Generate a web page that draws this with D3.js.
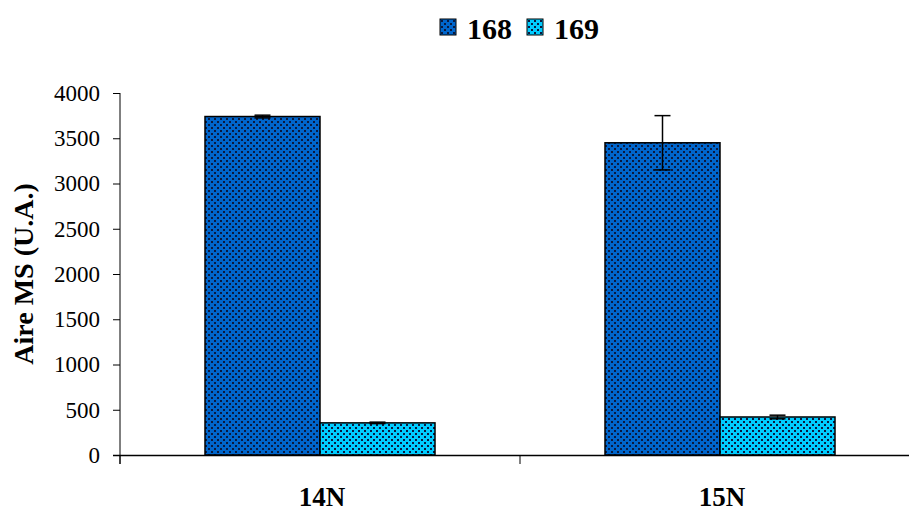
<!DOCTYPE html>
<html><head><meta charset="utf-8">
<script src="https://cdn.jsdelivr.net/npm/d3@7"></script>
<style>body{margin:0;background:#fff;} svg{display:block;}</style>
</head><body>
<svg id="c" width="909" height="513"></svg>
<script>
const categories = ["14N", "15N"];
const seriesNames = ["168", "169"];
const values168 = [3740, 3450];
const values169 = [355, 420];
const errors168 = [15, 300];
const errors169 = [8, 20];
const yTicks = [0, 500, 1000, 1500, 2000, 2500, 3000, 3500, 4000];
const colors = ["#0066CC", "#00CCFF"];

const svg = d3.select("#c");
const font = "'Liberation Serif','Times New Roman',serif";
const defs = svg.append("defs");
colors.forEach((c, i) => {
  const p = defs.append("pattern").attr("id", "pat" + i).attr("patternUnits", "userSpaceOnUse")
    .attr("width", 6).attr("height", 6);
  p.append("rect").attr("width", 6).attr("height", 6).attr("fill", c);
  p.append("rect").attr("x", 1).attr("y", 1).attr("width", 2).attr("height", 2).attr("fill", "#0a1a40");
  p.append("rect").attr("x", 4).attr("y", 4).attr("width", 2).attr("height", 2).attr("fill", "#0a1a40");
});

const x0 = d3.scaleBand().domain(categories).range([120, 920]).paddingInner(0).paddingOuter(0);
const x1 = d3.scaleBand().domain(seriesNames).range([85, 315]);
const y = d3.scaleLinear().domain([0, 4000]).range([455, 93]);

const data = categories.map((c, i) => ({
  cat: c,
  vals: [
    { s: "168", v: values168[i], e: errors168[i], k: 0 },
    { s: "169", v: values169[i], e: errors169[i], k: 1 }
  ]
}));

const g = svg.append("g");
const cg = g.selectAll("g.cat").data(data).join("g").attr("transform", d => `translate(${x0(d.cat)},0)`);
cg.selectAll("rect").data(d => d.vals).join("rect")
  .attr("x", d => x1(d.s)).attr("width", x1.bandwidth())
  .attr("y", d => y(d.v)).attr("height", d => y(0) - y(d.v))
  .attr("fill", d => `url(#pat${d.k})`).attr("stroke", "#000").attr("stroke-width", 1.5);

// error bars
const eb = cg.selectAll("g.eb").data(d => d.vals).join("g");
eb.append("line").attr("x1", d => x1(d.s) + x1.bandwidth() / 2).attr("x2", d => x1(d.s) + x1.bandwidth() / 2)
  .attr("y1", d => y(d.v + d.e)).attr("y2", d => y(d.v - d.e)).attr("stroke", "#000").attr("stroke-width", 1.5);
eb.selectAll("line.cap").data(d => [d.v + d.e, d.v - d.e].map(t => ({ t, d }))).join("line")
  .attr("x1", o => x1(o.d.s) + x1.bandwidth() / 2 - 8).attr("x2", o => x1(o.d.s) + x1.bandwidth() / 2 + 8)
  .attr("y1", o => y(o.t)).attr("y2", o => y(o.t)).attr("stroke", "#000").attr("stroke-width", 1.5);

// y axis
const ya = d3.axisLeft(y).tickValues(yTicks).tickSize(7).tickPadding(13).tickFormat(d3.format("d"));
const yg = svg.append("g").attr("transform", "translate(120,0)").call(ya);
yg.select(".domain").attr("d", "M0,93V464").attr("stroke", "#000").attr("stroke-width", 1);
yg.selectAll("text").attr("font-family", font).attr("font-size", 23).attr("fill", "#000");

// x axis
svg.append("line").attr("x1", 113).attr("x2", 909).attr("y1", 455.5).attr("y2", 455.5).attr("stroke", "#000").attr("stroke-width", 1.5);
const bounds = [x0.range()[0]].concat(categories.map(c => x0(c) + x0.bandwidth()));
svg.selectAll("line.xt").data(bounds).join("line").attr("class", "xt")
  .attr("x1", d => d).attr("x2", d => d).attr("y1", 455).attr("y2", 464).attr("stroke", "#000").attr("stroke-width", 1);
svg.selectAll("text.xl").data(categories).join("text")
  .attr("x", d => x0(d) + x0.bandwidth() / 2 + 2).attr("y", 506).attr("text-anchor", "middle")
  .attr("font-family", font).attr("font-weight", "bold").attr("font-size", 27).text(d => d);

// y title
svg.append("text").attr("transform", "translate(33,274) rotate(-90)").attr("text-anchor", "middle")
  .attr("font-family", font).attr("font-weight", "bold").attr("font-size", 28).text("Aire MS (U.A.)");

// legend
const lx = [440, 527];
const lg = svg.selectAll("g.leg").data(seriesNames).join("g").attr("transform", (d, i) => `translate(${lx[i]},19)`);
lg.append("rect").attr("width", 16).attr("height", 16).attr("fill", (d, i) => `url(#pat${i})`).attr("stroke", "#000").attr("stroke-width", 1);
lg.append("text").attr("x", 27).attr("y", 20).attr("font-family", font).attr("font-weight", "bold").attr("font-size", 30).text(d => d);
</script>
</body></html>
